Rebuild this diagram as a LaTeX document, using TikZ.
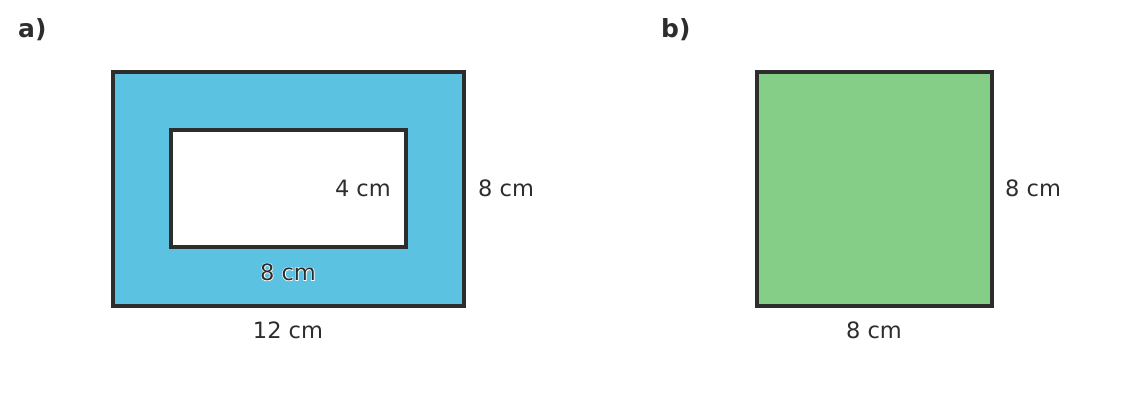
\documentclass[tikz,border=0pt]{standalone}
\usepackage{fontspec}
\setmainfont{DejaVu Sans}
\newfontfamily\halofont[FakeBold=6]{DejaVu Sans}
\definecolor{tx}{HTML}{2D2D2D}
\definecolor{blu}{HTML}{5BC2E1}
\definecolor{grn}{HTML}{84CE87}
\begin{document}
\begin{tikzpicture}[x=1pt,y=-1pt,
  box/.style={draw=tx,line width=3.5pt},
  lab/.style={text=tx,font=\fontsize{22.5}{26}\selectfont,inner sep=0},
  head/.style={text=tx,font=\fontsize{25}{28}\selectfont\bfseries,inner sep=0}]
\useasboundingbox (0,0) rectangle (1144,418);
\draw[box,fill=blu] (113,72) rectangle (464,306);
\draw[box,fill=white] (171,130) rectangle (406,247);
\draw[box,fill=grn] (757,72) rectangle (992,306);
\node[head,anchor=west] (a) at (18,30) {a)};
\node[head,anchor=west] (b) at (661,30) {b)};
\node[lab,anchor=east] (l4) at (391,188) {4 cm};
\node[lab,anchor=west] (l8a) at (478,188) {8 cm};
\node[lab,text=white,font=\fontsize{22.5}{26}\halofont] (halo) at (288,272) {8 cm};
\node[lab] (l8b) at (288,272) {8 cm};
\node[lab] (l12) at (288,330) {12 cm};
\node[lab] (l8c) at (874,330) {8 cm};
\node[lab,anchor=west] (l8d) at (1005,188) {8 cm};
\end{tikzpicture}
\end{document}
